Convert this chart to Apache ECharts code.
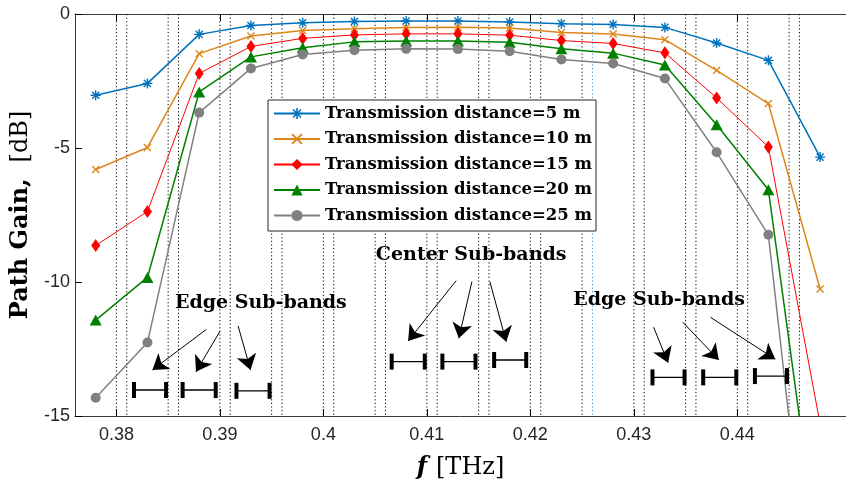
<!DOCTYPE html>
<html>
<head>
<meta charset="utf-8">
<script src="https://cdn.jsdelivr.net/npm/echarts@6/dist/echarts.min.js"></script>
<style>
  html, body { margin: 0; padding: 0; background: #fff; }
  #chart { width: 846px; height: 486px; }
</style>
</head>
<body>
<div id="chart"></div>
<script>
// Sub-band centre frequencies (THz)
const freqTHz = [0.378, 0.383, 0.388, 0.393, 0.398, 0.403, 0.408, 0.413, 0.418, 0.423, 0.428, 0.433, 0.438, 0.443, 0.448];

// Path gain (dB) per transmission distance
const gain5m  = [-3.03, -2.59, -0.76, -0.43, -0.33, -0.28, -0.26, -0.26, -0.30, -0.36, -0.39, -0.50, -1.08, -1.73, -5.34];
const gain10m = [-5.80, -4.98, -1.48, -0.82, -0.62, -0.55, -0.50, -0.49, -0.52, -0.69, -0.75, -0.96, -2.10, -3.34, -10.26];
const gain15m = [-8.64, -7.37, -2.22, -1.21, -0.91, -0.78, -0.74, -0.74, -0.79, -0.99, -1.10, -1.45, -3.13, -4.96, -15.3];
const gain20m = [-11.42, -9.83, -2.91, -1.60, -1.26, -1.04, -1.01, -1.01, -1.05, -1.30, -1.46, -1.90, -4.13, -6.56, -20.7];
const gain25m = [-14.32, -12.26, -3.68, -2.03, -1.51, -1.35, -1.30, -1.31, -1.39, -1.70, -1.85, -2.41, -5.16, -8.24, -25.4];

const seriesNames = [
  'Transmission distance=5 m',
  'Transmission distance=10 m',
  'Transmission distance=15 m',
  'Transmission distance=20 m',
  'Transmission distance=25 m'
];

// Axis ticks
const xTicks = [0.38, 0.39, 0.40, 0.41, 0.42, 0.43, 0.44];
const yTicks = [0, -5, -10, -15];

// Sub-band guard edges (THz), drawn as dotted verticals
const guardEdges = [0.380, 0.381, 0.385, 0.386, 0.390, 0.391, 0.395, 0.396, 0.400, 0.401,
                    0.405, 0.406, 0.410, 0.411, 0.415, 0.416, 0.420, 0.421, 0.425, 0.426,
                    0.430, 0.431, 0.435, 0.436, 0.440, 0.441, 0.445, 0.446];
const highlightedEdge = 0.426;

// Sub-band span glyphs: [start THz, end THz, level dB]
const bandSpans = [
  [0.3817, 0.3848, -14.03], [0.3864, 0.3896, -14.03], [0.3916, 0.3948, -14.06],
  [0.4066, 0.4098, -12.97], [0.4115, 0.4147, -12.97], [0.4165, 0.4196, -12.91],
  [0.4318, 0.4349, -13.56], [0.4367, 0.4399, -13.56], [0.4417, 0.4448, -13.51]
];

// Callout labels and arrows (data coordinates)
const calloutLabels = [
  { text: 'Edge Sub-bands',   at: [0.39396, -10.78] },
  { text: 'Center Sub-bands', at: [0.41428, -8.99] },
  { text: 'Edge Sub-bands',   at: [0.43244, -10.67] }
];
const calloutArrows = [
  [[0.38869, -11.77], [0.38348, -13.28]],
  [[0.39002, -11.83], [0.38769, -13.35]],
  [[0.39176, -11.64], [0.39296, -13.28]],
  [[0.41283, -9.95],  [0.40819, -12.20]],
  [[0.41435, -9.99],  [0.41309, -12.10]],
  [[0.41609, -9.99],  [0.41767, -12.23]],
  [[0.43191, -11.69], [0.43331, -13.01]],
  [[0.43473, -11.50], [0.43821, -12.91]],
  [[0.43741, -11.32], [0.44367, -12.88]]
];

// Marker shapes
const asteriskPath = 'path://M-1.4,-10L1.4,-10L1.4,10L-1.4,10Z' +
  'M-10,1.4L-10,-1.4L10,-1.4L10,1.4Z' +
  'M-8.06,-6.08L-6.08,-8.06L8.06,6.08L6.08,8.06Z' +
  'M-6.08,8.06L-8.06,6.08L6.08,-8.06L8.06,-6.08Z';
const crossPath = 'path://M-8.06,-6.08L-6.08,-8.06L8.06,6.08L6.08,8.06Z' +
  'M-6.08,8.06L-8.06,6.08L6.08,-8.06L8.06,-6.08Z';

const X_MIN = 0.376, X_MAX = 0.4505, Y_MIN = -15, Y_MAX = 0;
const SERIF = '"DejaVu Serif", serif';
const SANS = '"Liberation Sans", Arial, sans-serif';
const AXIS_COLOR = '#3a3a3a';

function pairs(values) {
  return freqTHz.map((f, i) => [f, values[i]]);
}

const gainSets = [gain5m, gain10m, gain15m, gain20m, gain25m];
const colors = ['#0072BD', '#DD8619', '#FF0000', '#008000', '#808080'];
const symbols = [asteriskPath, crossPath, 'diamond', 'triangle', 'circle'];
const symbolSizes = [10, 8, [9, 13], [12, 11], 10];
const lineWidths = [1.5, 1.5, 1, 1.5, 1.5];

const lineSeries = gainSets.map((vals, k) => ({
  name: seriesNames[k],
  type: 'line',
  data: pairs(vals),
  clip: true,
  z: 5 + k,
  symbol: symbols[k],
  symbolSize: symbolSizes[k],
  showSymbol: true,
  showAllSymbol: true,
  color: colors[k],
  itemStyle: { color: colors[k] },
  lineStyle: { color: colors[k], width: lineWidths[k] },
  emphasis: { disabled: true }
}));

const guardSeries = {
  name: 'guards',
  type: 'custom',
  z: 1,
  silent: true,
  clip: true,
  data: guardEdges.map(f => [f, 0]),
  encode: { x: 0, y: 1 },
  renderItem: function (params, api) {
    const f = api.value(0);
    const top = api.coord([f, Y_MAX]);
    const bot = api.coord([f, Y_MIN]);
    const blue = Math.abs(f - highlightedEdge) < 1e-9;
    return {
      type: 'line',
      shape: { x1: top[0], y1: top[1], x2: bot[0], y2: bot[1] },
      style: { stroke: blue ? '#3a8fd6' : '#000', lineWidth: 1, lineDash: [1.2, 2.4] }
    };
  }
};

const spanSeries = {
  name: 'spans',
  type: 'custom',
  z: 12,
  silent: true,
  clip: false,
  data: bandSpans,
  encode: { x: [0, 1], y: 2 },
  renderItem: function (params, api) {
    const a = api.coord([api.value(0), api.value(2)]);
    const b = api.coord([api.value(1), api.value(2)]);
    return {
      type: 'group',
      children: [
        { type: 'line', shape: { x1: a[0], y1: a[1], x2: b[0], y2: b[1] }, style: { stroke: '#000', lineWidth: 1.3 } },
        { type: 'rect', shape: { x: a[0] - 2, y: a[1] - 8, width: 4, height: 16 }, style: { fill: '#000' } },
        { type: 'rect', shape: { x: b[0] - 2, y: b[1] - 8, width: 4, height: 16 }, style: { fill: '#000' } }
      ]
    };
  }
};

const labelSeries = {
  name: 'callouts',
  type: 'custom',
  z: 12,
  silent: true,
  clip: false,
  data: calloutLabels.map(c => c.at),
  encode: { x: 0, y: 1 },
  renderItem: function (params, api) {
    const p = api.coord([api.value(0), api.value(1)]);
    return {
      type: 'text',
      x: p[0], y: p[1],
      style: {
        text: calloutLabels[params.dataIndex].text,
        font: 'bold 19px ' + SERIF,
        fill: '#000',
        align: 'center',
        verticalAlign: 'middle'
      }
    };
  }
};

const arrowSeries = {
  name: 'arrows',
  type: 'lines',
  coordinateSystem: 'cartesian2d',
  z: 12,
  silent: true,
  symbol: ['none', 'arrow'],
  symbolSize: 15,
  lineStyle: { color: '#000', width: 1, opacity: 1, curveness: 0 },
  data: calloutArrows.map(c => ({ coords: c }))
};

const chart = echarts.init(document.getElementById('chart'), null, { renderer: 'canvas' });

chart.setOption({
  animation: false,
  backgroundColor: '#fff',
  grid: { left: 75, right: -15, top: 14, bottom: 70, containLabel: false },
  legend: {
    data: seriesNames,
    orient: 'vertical',
    left: 268,
    top: 100,
    itemWidth: 46,
    itemHeight: 14,
    itemGap: 8.5,
    padding: [5, 4, 7, 5],
    backgroundColor: '#fff',
    borderColor: '#262626',
    borderWidth: 1,
    borderRadius: 0,
    selectedMode: false,
    textStyle: { fontFamily: SERIF, fontWeight: 'bold', fontSize: 16.5, color: '#000' }
  },
  xAxis: [{
    type: 'value',
    min: X_MIN,
    max: X_MAX,
    position: 'bottom',
    name: '{i|f}{r|[THz]}',
    nameLocation: 'middle',
    nameGap: 40,
    nameTextStyle: {
      rich: {
        i: { fontFamily: SERIF, fontStyle: 'italic', fontWeight: 'bold', fontSize: 24, color: '#000' },
        r: { fontFamily: SERIF, fontSize: 24, color: '#000', padding: [0, 0, 0, 9] }
      }
    },
    axisLine: { show: true, onZero: false, lineStyle: { color: AXIS_COLOR, width: 1 } },
    axisTick: { show: true, inside: true, length: 7, customValues: xTicks, lineStyle: { color: '#000' } },
    axisLabel: { customValues: xTicks, margin: 10, fontFamily: SANS, fontSize: 18, color: '#262626',
                 formatter: v => String(+v.toFixed(3)) },
    splitLine: { show: false }
  }, {
    type: 'value',
    min: X_MIN,
    max: X_MAX,
    position: 'top',
    axisLine: { show: true, onZero: false, lineStyle: { color: AXIS_COLOR, width: 1 } },
    axisTick: { show: true, inside: true, length: 7, customValues: xTicks, lineStyle: { color: '#000' } },
    axisLabel: { show: false },
    splitLine: { show: false }
  }],
  yAxis: {
    type: 'value',
    min: Y_MIN,
    max: Y_MAX,
    interval: 5,
    name: '{b|Path Gain,}{r|[dB]}',
    nameLocation: 'middle',
    nameRotate: 90,
    nameGap: 42,
    nameTextStyle: {
      rich: {
        b: { fontFamily: SERIF, fontWeight: 'bold', fontSize: 24, color: '#000' },
        r: { fontFamily: SERIF, fontSize: 24, color: '#000', padding: [0, 0, 0, 16] }
      }
    },
    axisLine: { show: true, onZero: false, lineStyle: { color: AXIS_COLOR, width: 1 } },
    axisTick: { show: true, inside: true, length: 7, lineStyle: { color: '#000' } },
    axisLabel: { margin: 5, fontFamily: SANS, fontSize: 18, color: '#262626',
                 formatter: v => (yTicks.indexOf(v) >= 0 ? String(v) : '') },
    splitLine: { show: false }
  },
  series: [guardSeries].concat(lineSeries, [spanSeries, arrowSeries, labelSeries])
});
</script>
</body>
</html>
